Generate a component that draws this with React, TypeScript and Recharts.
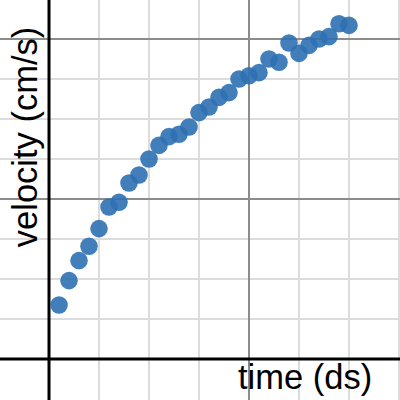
import React from 'react';
import { ScatterChart, Scatter, XAxis, YAxis, ReferenceLine } from 'recharts';

// time in ds, one sample per ds
const times = [1, 2, 3, 4, 5, 6, 7, 8, 9, 10, 11, 12, 13, 14, 15, 16, 17, 18, 19, 20, 21, 22, 23, 24, 25, 26, 27, 28, 29, 30];
const velocities = [
  6.75, 9.8, 12.3, 14.1, 16.3, 19.0, 19.6, 22.0, 23.0, 25.0,
  26.7, 27.8, 28.1, 29.0, 30.8, 31.5, 32.7, 33.3, 35.0, 35.4,
  35.8, 37.5, 37.1, 39.5, 38.2, 39.2, 40.0, 40.3, 41.9, 41.7,
];

const xMinor = [-5, 5, 10, 15, 25, 30, 35];
const xMajor = [20];
const yMinor = [5, 10, 15, 25, 30, 35];
const yMajor = [20, 40];

const data = times.map((t, i) => ({ t, v: velocities[i] }));

const Dot = (props: any) => {
  const { cx, cy } = props;
  return <circle cx={cx} cy={cy} r={8.8} fill="#2d70b3" fillOpacity={0.9} />;
};

export default function App() {
  return (
    <div style={{ position: 'absolute', left: 0, top: 0, width: 400, height: 400, background: '#fff' }}>
      <ScatterChart width={400} height={400} margin={{ top: 0, right: 0, bottom: 0, left: 0 }}>
        <XAxis type="number" dataKey="t" domain={[-4.9, 35.1]} allowDataOverflow hide />
        <YAxis type="number" dataKey="v" domain={[-5.125, 44.875]} allowDataOverflow hide />
        {xMinor.map((x) => (
          <ReferenceLine key={'xm' + x} x={x} stroke="#dcdcdc" strokeWidth={2} />
        ))}
        {yMinor.map((y) => (
          <ReferenceLine key={'ym' + y} y={y} stroke="#dcdcdc" strokeWidth={2} />
        ))}
        {xMajor.map((x) => (
          <ReferenceLine key={'xM' + x} x={x} stroke="#8c8c8c" strokeWidth={2} />
        ))}
        {yMajor.map((y) => (
          <ReferenceLine key={'yM' + y} y={y} stroke="#8c8c8c" strokeWidth={2} />
        ))}
        <ReferenceLine x={0} stroke="#000" strokeWidth={3} />
        <ReferenceLine y={0} stroke="#000" strokeWidth={3} />
        <Scatter data={data} shape={Dot} isAnimationActive={false} />
      </ScatterChart>
      <div
        style={{
          position: 'absolute',
          left: 25,
          top: 137,
          transform: 'translate(-50%, -50%) rotate(-90deg)',
          whiteSpace: 'nowrap',
          fontFamily: '"Liberation Sans", Arial, sans-serif',
          fontSize: 34.5,
          color: '#000',
          lineHeight: 1,
        }}
      >
        velocity (cm/s)
      </div>
      <div
        style={{
          position: 'absolute',
          left: 238,
          top: 360,
          whiteSpace: 'nowrap',
          fontFamily: '"Liberation Sans", Arial, sans-serif',
          fontSize: 34.5,
          color: '#000',
          lineHeight: 1,
        }}
      >
        time (ds)
      </div>
    </div>
  );
}
